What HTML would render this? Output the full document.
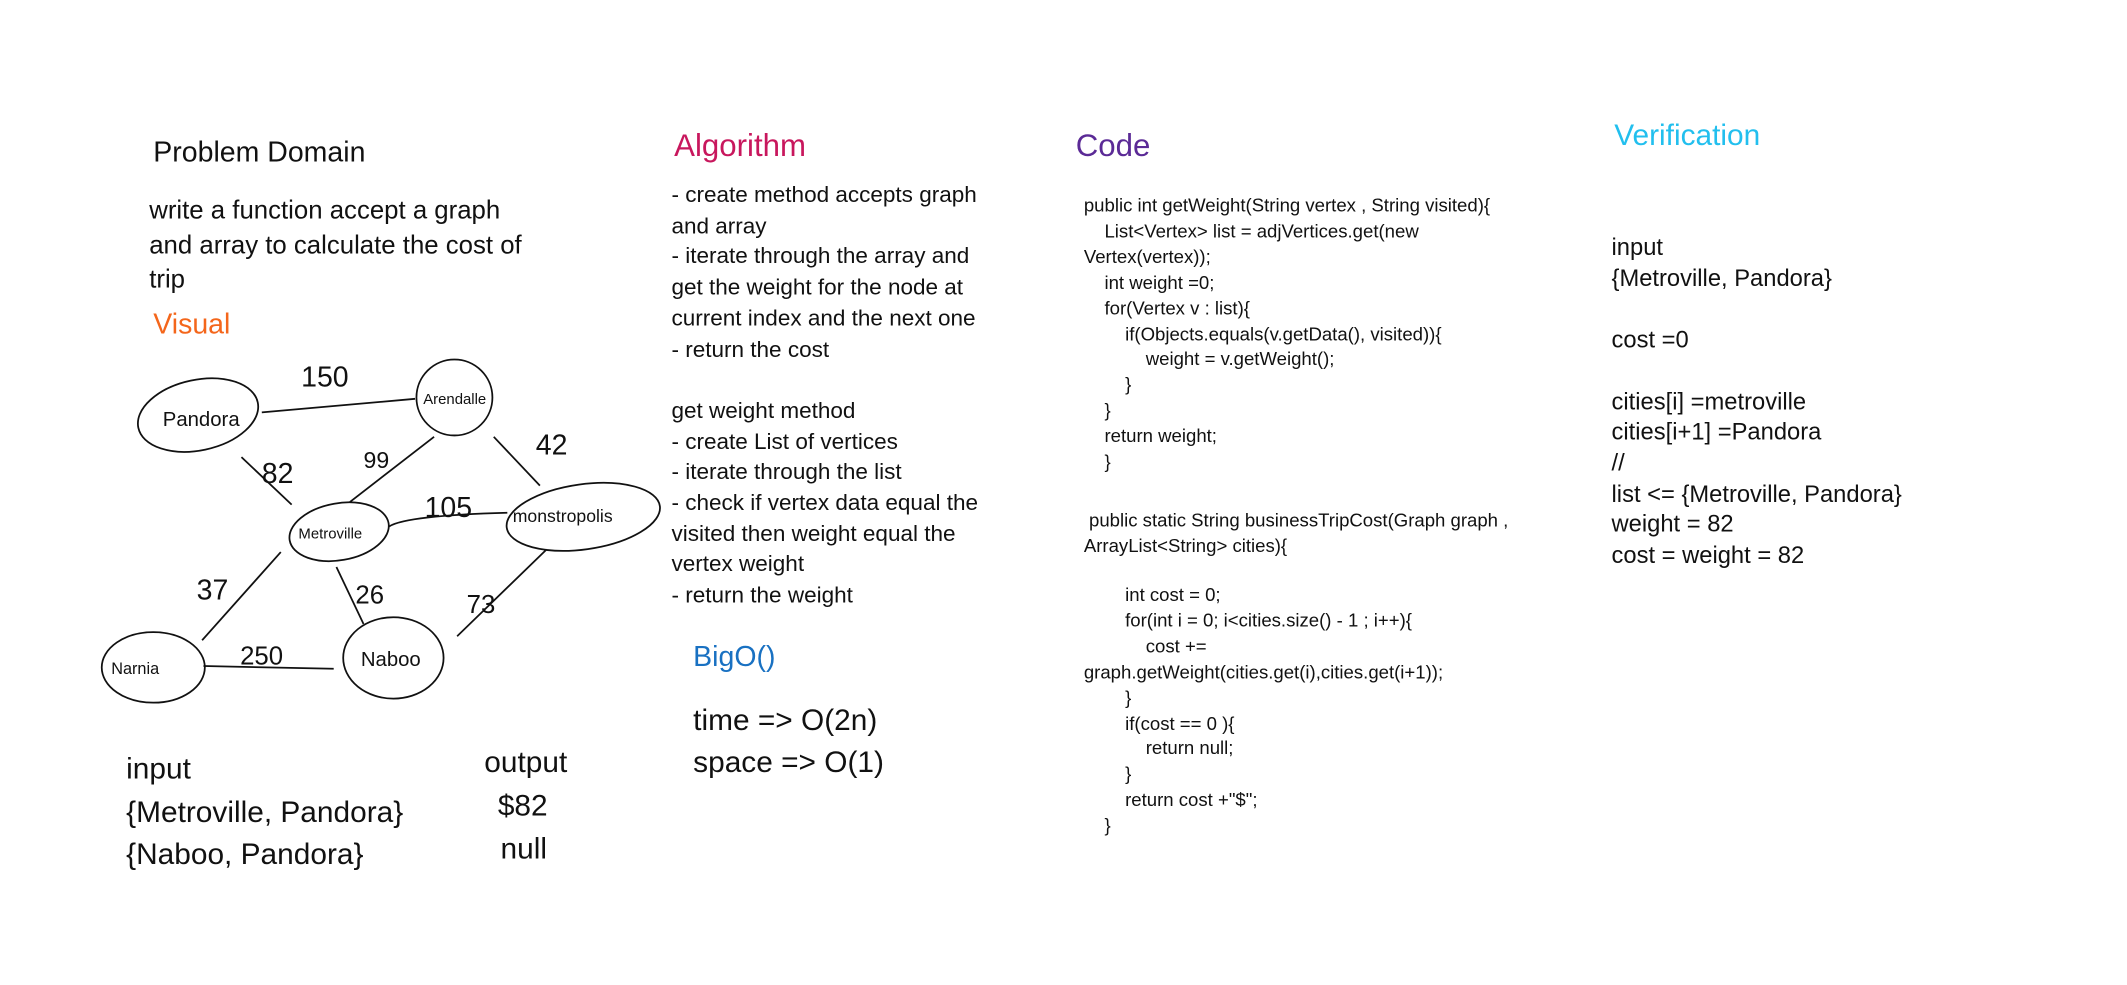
<!DOCTYPE html>
<html><head><meta charset="utf-8"><style>
html,body{margin:0;padding:0;background:#fff;width:2127px;height:985px;overflow:hidden}
#w{position:absolute;left:0;top:0;width:1568px;height:726px;transform:scale(1.3565);transform-origin:0 0;font-family:"Liberation Sans",sans-serif;color:#111}
.t{position:absolute;white-space:nowrap;line-height:1}
svg{position:absolute;left:0;top:0}
</style></head><body><div id="w">
<svg width="1568" height="726" viewBox="0 0 1568 726" fill="none" stroke="#111" stroke-width="1.3">
<ellipse cx="146" cy="306" rx="45" ry="26" transform="rotate(-12 146 306)"/>
<circle cx="335" cy="293" r="28"/>
<ellipse cx="250" cy="392" rx="37" ry="21" transform="rotate(-10 250 392)"/>
<ellipse cx="430" cy="381" rx="57" ry="24" transform="rotate(-8 430 381)"/>
<ellipse cx="113" cy="492" rx="38" ry="26"/>
<ellipse cx="290" cy="485" rx="37" ry="30"/>
<path d="M193 304 L306 294"/>
<path d="M178 337 L215 372"/>
<path d="M320 322 L258 370"/>
<path d="M364 322 L398 358"/>
<path d="M287 388 Q300 380 374 378"/>
<path d="M207 407 L149 472"/>
<path d="M248 418 L268 460"/>
<path d="M403 405 L337 469"/>
<path d="M150 491 L246 493"/>
<g fill="#111" stroke="none" font-family="Liberation Sans, sans-serif">
<text x="120" y="314" font-size="15">Pandora</text>
<text x="312" y="298" font-size="11">Arendalle</text>
<text x="220" y="397" font-size="11">Metroville</text>
<text x="378" y="385" font-size="13">monstropolis</text>
<text x="82" y="497" font-size="12">Narnia</text>
<text x="266" y="491" font-size="15">Naboo</text>
<text x="222" y="285" font-size="21">150</text>
<text x="193" y="356" font-size="21">82</text>
<text x="268" y="345" font-size="17">99</text>
<text x="395" y="335" font-size="21">42</text>
<text x="313" y="381" font-size="21">105</text>
<text x="145" y="442" font-size="21">37</text>
<text x="262" y="445" font-size="19">26</text>
<text x="344" y="452" font-size="19">73</text>
<text x="177" y="490" font-size="19">250</text>
</g>
</svg>

<div class="t" style="left:113px;top:102px;font-size:21px">Problem Domain</div>
<div class="t" style="left:110px;top:143px;font-size:19px;line-height:25.5px">write a function accept a graph<br>and array to calculate the cost of<br>trip</div>
<div class="t" style="left:113px;top:229px;font-size:21px;color:#f4661b">Visual</div>

<div class="t" style="left:93px;top:551px;font-size:22px;line-height:31.5px">input<br>{Metroville, Pandora}<br>{Naboo, Pandora}</div>
<div class="t" style="left:357px;top:551px;font-size:22px">output</div>
<div class="t" style="left:367px;top:583px;font-size:22px">$82</div>
<div class="t" style="left:369px;top:615px;font-size:22px">null</div>

<div class="t" style="left:497px;top:96px;font-size:23px;color:#c8175d">Algorithm</div>
<div class="t" style="left:495px;top:133px;font-size:16.6px;line-height:22.7px">- create method accepts graph<br>and array<br>- iterate through the array and<br>get the weight for the node at<br>current index and the next one<br>- return the cost<br><br>get weight method<br>- create List of vertices<br>- iterate through the list<br>- check if vertex data equal the<br>visited then weight equal the<br>vertex weight<br>- return the weight</div>
<div class="t" style="left:511px;top:474px;font-size:21px;color:#1971c2">BigO()</div>
<div class="t" style="left:511px;top:515px;font-size:22px;line-height:31px">time =&gt; O(2n)<br>space =&gt; O(1)</div>

<div class="t" style="left:793px;top:96px;font-size:23px;color:#5b2a96">Code</div>
<div class="t" style="left:799px;top:143px;font-size:13.7px;line-height:18.9px">public int getWeight(String vertex , String visited){<br>&nbsp;&nbsp;&nbsp;&nbsp;List&lt;Vertex&gt; list = adjVertices.get(new<br>Vertex(vertex));<br>&nbsp;&nbsp;&nbsp;&nbsp;int weight =0;<br>&nbsp;&nbsp;&nbsp;&nbsp;for(Vertex v : list){<br>&nbsp;&nbsp;&nbsp;&nbsp;&nbsp;&nbsp;&nbsp;&nbsp;if(Objects.equals(v.getData(), visited)){<br>&nbsp;&nbsp;&nbsp;&nbsp;&nbsp;&nbsp;&nbsp;&nbsp;&nbsp;&nbsp;&nbsp;&nbsp;weight = v.getWeight();<br>&nbsp;&nbsp;&nbsp;&nbsp;&nbsp;&nbsp;&nbsp;&nbsp;}<br>&nbsp;&nbsp;&nbsp;&nbsp;}<br>&nbsp;&nbsp;&nbsp;&nbsp;return weight;<br>&nbsp;&nbsp;&nbsp;&nbsp;}</div>
<div class="t" style="left:799px;top:375px;font-size:13.7px;line-height:18.9px">&nbsp;public static String businessTripCost(Graph graph ,<br>ArrayList&lt;String&gt; cities){</div>
<div class="t" style="left:799px;top:430px;font-size:13.7px;line-height:18.9px">&nbsp;&nbsp;&nbsp;&nbsp;&nbsp;&nbsp;&nbsp;&nbsp;int cost = 0;<br>&nbsp;&nbsp;&nbsp;&nbsp;&nbsp;&nbsp;&nbsp;&nbsp;for(int i = 0; i&lt;cities.size() - 1 ; i++){<br>&nbsp;&nbsp;&nbsp;&nbsp;&nbsp;&nbsp;&nbsp;&nbsp;&nbsp;&nbsp;&nbsp;&nbsp;cost +=<br>graph.getWeight(cities.get(i),cities.get(i+1));<br>&nbsp;&nbsp;&nbsp;&nbsp;&nbsp;&nbsp;&nbsp;&nbsp;}<br>&nbsp;&nbsp;&nbsp;&nbsp;&nbsp;&nbsp;&nbsp;&nbsp;if(cost == 0 ){<br>&nbsp;&nbsp;&nbsp;&nbsp;&nbsp;&nbsp;&nbsp;&nbsp;&nbsp;&nbsp;&nbsp;&nbsp;return null;<br>&nbsp;&nbsp;&nbsp;&nbsp;&nbsp;&nbsp;&nbsp;&nbsp;}<br>&nbsp;&nbsp;&nbsp;&nbsp;&nbsp;&nbsp;&nbsp;&nbsp;return cost +"$";<br>&nbsp;&nbsp;&nbsp;&nbsp;}</div>

<div class="t" style="left:1190px;top:89px;font-size:22px;color:#22bfee">Verification</div>
<div class="t" style="left:1188px;top:171px;font-size:17.5px;line-height:22.7px">input<br>{Metroville, Pandora}<br><br>cost =0<br><br>cities[i] =metroville<br>cities[i+1] =Pandora<br>//<br>list &lt;= {Metroville, Pandora}<br>weight = 82<br>cost = weight = 82</div>
</div></body></html>
